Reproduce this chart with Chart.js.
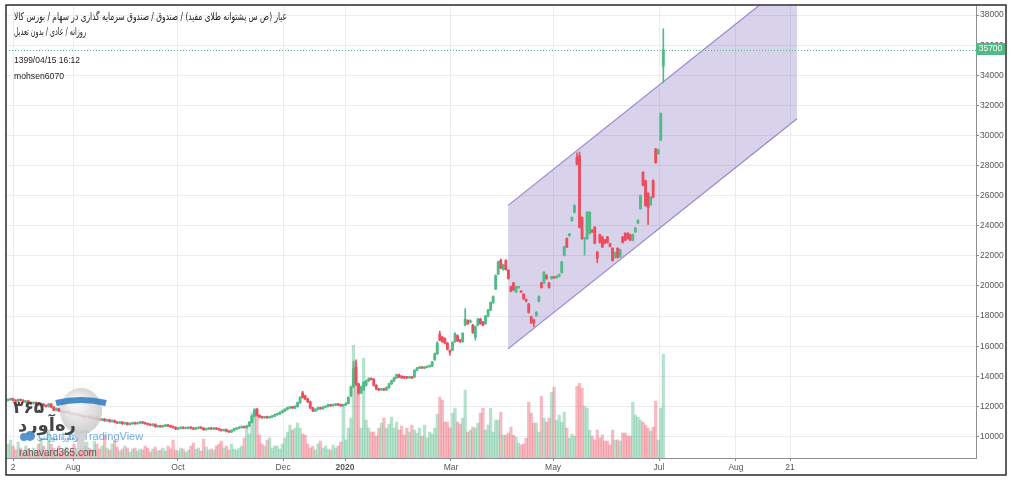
<!DOCTYPE html>
<html><head><meta charset="utf-8">
<script src="https://cdn.jsdelivr.net/npm/chart.js@4.4.0/dist/chart.umd.min.js"></script>
<style>html,body{margin:0;padding:0;background:#fff;overflow:hidden}canvas{display:block}</style>
</head><body>
<canvas id="c" width="1019" height="491"></canvas>
<script>
// ---- data (bar index 0 = early Jul 2019, last = 1399/04/15) ----
const opens = [
12400,12450,12500,12400,12350,12450,12400,12300,12350,12250,
12200,12250,12150,12100,12150,12050,12000,12150,11950,11750,
11850,11700,11650,11600,11650,11550,11500,11450,11500,11400,
11350,11300,11350,11250,11200,11250,11150,11100,11150,11050,
11100,11000,11050,10950,10900,10950,10850,10900,10800,10850,
10900,10850,10900,10950,10900,10850,10800,10750,10800,10650,
10700,10650,10700,10750,10700,10650,10600,10500,10550,10600,
10550,10550,10600,10550,10500,10550,10600,10550,10450,10500,
10550,10500,10550,10500,10450,10400,10450,10350,10300,10400,
10500,10550,10600,10650,10600,10700,10950,11350,11800,11400,
11300,11250,11300,11250,11300,11350,11450,11500,11600,11700,
11800,11900,11950,11900,12000,12250,12900,12700,12500,12300,
11900,11700,11800,11900,11850,11950,12000,12100,12050,12100,
12150,12100,12050,12100,12200,12700,13300,14600,13500,12900,
13100,13400,13700,13850,13800,13400,13150,13100,13150,13100,
13250,13500,13700,13900,14100,14000,13950,13950,13900,13950,
13950,14400,14550,14600,14550,14600,14650,14700,15100,15500,
16800,16600,16500,16200,15700,15750,16300,16700,16400,16300,
17400,17700,17600,17400,16600,17400,17800,17600,17500,18000,
18400,18900,19800,20800,21700,21100,21700,21050,19950,20200,
19600,19900,19650,19450,19100,18800,17950,17750,18050,19000,
20200,20200,20700,20200,20500,20600,20550,20650,20900,22050,
23150,23350,24350,24900,28550,28650,24550,23150,23150,23500,
23700,23900,22250,23400,23250,23050,23250,22800,22500,21900,
22500,21950,23250,23500,23500,23400,23050,23600,24200,25150,
27550,27000,26150,25400,27000,29100,28800,29700,34600];
const closes = [
12450,12500,12400,12350,12450,12400,12300,12350,12250,12200,
12250,12150,12100,12150,12050,12000,12150,11950,11750,11850,
11700,11650,11600,11650,11550,11500,11450,11500,11400,11350,
11300,11350,11250,11200,11250,11150,11100,11150,11050,11100,
11000,11050,10950,10900,10950,10850,10900,10800,10850,10900,
10850,10900,10950,10900,10850,10800,10750,10800,10650,10700,
10650,10700,10750,10700,10650,10600,10500,10550,10600,10550,
10550,10600,10550,10500,10550,10600,10550,10450,10500,10550,
10500,10550,10500,10450,10400,10450,10350,10300,10400,10500,
10550,10600,10650,10600,10700,10950,11350,11750,11400,11300,
11250,11300,11250,11300,11350,11450,11500,11600,11700,11800,
11900,11950,11900,12000,12250,12600,12600,12500,12300,11900,
11700,11800,11900,11850,11950,12000,12100,12050,12100,12150,
12100,12050,12100,12200,12600,13300,14500,13500,12900,13300,
13600,13700,13850,13800,13400,13150,13100,13150,13100,13250,
13500,13700,13900,14100,13950,13900,13900,13900,13950,13900,
14400,14550,14600,14550,14600,14650,14700,14950,15500,16200,
16400,16300,16200,15800,15600,16250,16800,16350,16300,16850,
17800,17500,17700,16900,17300,17800,17500,17400,18000,18400,
18900,19300,20700,21600,21200,21400,21100,20500,19650,19750,
19950,19900,19600,19150,19000,18250,17550,17550,18250,19300,
19900,20900,20500,19900,20600,20550,20650,20750,21600,22600,
22600,23450,24550,25350,28100,23900,23150,23150,24900,24900,
23600,22850,21850,22900,22600,22850,22900,22650,21700,22200,
21900,22400,22900,23050,23150,23050,23400,23850,24350,26000,
26700,25350,25200,25900,25900,28200,29050,31450,35700];
const highs = [
12500,12550,12550,12450,12500,12500,12450,12400,12400,12300,
12300,12300,12200,12200,12200,12100,12200,12200,12000,11900,
11900,11750,11700,11700,11700,11600,11550,11550,11550,11450,
11400,11400,11400,11300,11300,11300,11200,11200,11200,11150,
11150,11100,11100,11000,11000,11000,10950,10950,10900,10950,
10950,10950,11000,11000,10950,10900,10850,10850,10850,10750,
10750,10750,10800,10800,10750,10700,10650,10600,10650,10650,
10600,10650,10650,10600,10600,10650,10650,10600,10550,10600,
10600,10600,10600,10550,10500,10500,10500,10400,10450,10550,
10600,10650,10700,10700,10750,11000,11400,11850,11850,11450,
11350,11350,11350,11350,11400,11500,11550,11650,11750,11850,
11950,12000,12000,12050,12300,12650,13000,12750,12550,12350,
11950,11850,11950,11950,12000,12050,12150,12150,12150,12200,
12200,12150,12150,12250,12650,13350,15000,15100,13550,13350,
13650,13750,13900,13900,13850,13450,13200,13200,13200,13300,
13550,13750,13950,14150,14150,14050,14000,14000,14000,14000,
14450,14600,14650,14650,14650,14700,14750,15000,15550,16300,
17000,16650,16550,16250,15750,16300,16900,16750,16450,16900,
18500,17750,17750,17450,17350,17850,17850,17650,18050,18450,
18950,19350,20750,21650,21800,21450,21750,21100,20000,20250,
20000,19950,19700,19500,19150,18850,18000,17800,18300,19350,
20250,20950,20750,20250,20650,20650,20700,20800,21650,22650,
23200,23500,24600,25400,28850,28900,24600,23200,24950,24950,
23750,23950,22300,23450,23300,23100,23300,22850,22550,22250,
22550,22450,23300,23550,23550,23450,23450,23900,24400,26050,
27600,27050,26200,25950,27050,29150,29100,31500,37100];
const lows = [
12350,12400,12350,12300,12300,12350,12250,12250,12200,12150,
12150,12100,12050,12050,12000,11950,11950,11900,11700,11700,
11650,11600,11550,11550,11500,11450,11400,11400,11350,11300,
11250,11250,11200,11150,11150,11100,11050,11050,11000,11000,
10950,10950,10900,10850,10850,10800,10800,10750,10750,10800,
10800,10800,10850,10850,10800,10750,10700,10700,10600,10600,
10600,10600,10650,10650,10600,10550,10450,10450,10500,10500,
10500,10500,10500,10450,10450,10500,10500,10400,10400,10450,
10450,10450,10450,10400,10350,10350,10300,10250,10250,10350,
10450,10500,10550,10550,10550,10650,10900,11300,11350,11250,
11200,11200,11200,11200,11250,11300,11400,11450,11550,11650,
11750,11850,11850,11850,11950,12200,12550,12450,12250,11850,
11650,11650,11750,11800,11800,11900,11950,12000,12000,12050,
12050,12000,12000,12050,12150,12650,13250,13400,12800,12850,
13050,13350,13650,13750,13350,13100,13050,13050,13050,13050,
13200,13450,13650,13850,13900,13850,13850,13850,13850,13850,
13900,14350,14500,14500,14500,14550,14600,14650,15050,15450,
16350,16250,16150,15750,15400,15700,16250,16300,16250,16250,
17350,17450,17550,16850,16400,17350,17450,17350,17450,17950,
18350,18850,19750,20750,21150,21050,21050,20450,19600,19700,
19550,19850,19550,19100,18950,18200,17500,17300,18000,18950,
19850,20150,20450,19850,20450,20500,20500,20600,20850,22000,
22550,23300,24300,24850,28050,23850,23100,22050,23100,23450,
23550,22800,21550,22850,22550,22800,22850,22600,21650,21850,
21850,21900,22850,23000,23100,23000,23000,23550,24150,25100,
26650,25300,24100,25350,25850,28150,28750,29650,33500];
const volumes = [
14,18,12,8,16,10,6,12,9,7,
10,8,14,20,12,6,28,14,10,8,
12,6,9,11,7,8,14,10,6,9,
12,16,10,8,17,14,9,12,23,10,
8,14,18,11,7,9,12,10,6,9,
10,7,9,8,12,10,6,9,11,7,
8,10,7,12,9,18,8,7,10,9,
6,8,12,15,9,10,7,19,11,8,
9,8,12,14,17,10,12,8,14,9,
8,10,12,20,31,24,45,48,50,23,
14,12,18,20,10,12,12,9,14,20,
26,33,28,30,35,30,24,23,14,10,
12,8,14,17,10,12,9,8,13,10,
12,16,53,18,30,40,113,96,65,30,
100,38,30,26,26,22,30,35,40,30,
34,41,30,36,28,32,23,30,26,33,
28,25,30,22,33,20,26,24,30,44,
61,58,36,36,30,45,50,36,34,40,
68,26,28,31,30,35,45,50,28,33,
50,26,38,38,46,23,23,25,31,23,
21,15,13,14,20,56,45,35,35,26,
62,40,36,40,66,71,38,43,36,46,
30,20,24,22,72,75,70,52,50,28,
22,18,28,20,23,17,17,13,28,18,
18,17,25,25,22,22,56,43,41,38,
36,33,30,27,31,57,18,50,104];

const xTickPos    = [2.0, 25.6, 66.9, 108.3, 132.7, 174.4, 214.6, 256.3, 286.6, 307.9];
const xTickLabels = ['2','Aug','Oct','Dec','2020','Mar','May','Jul','Aug','21'];
const yTicks = [10000,12000,14000,16000,18000,20000,22000,24000,26000,28000,30000,32000,34000,36000,38000];
const lastPrice = 35700;

// parallel channel (bar index, price)
const chX = [196.9, 310.6];
const chUpper = [25356, 40649];
const chLower = [15823, 31116];

const titleLine1 = 'عیار (ص س پشتوانه طلای مفید) / صندوق / صندوق سرمایه گذاری در سهام / بورس کالا';
const titleLine2 = 'روزانه / عادی / بدون تعدیل';
const stampText = '1399/04/15 16:12';
const userText = 'mohsen6070';

// ---- chart ----
const UP = '#53b987', DN = '#eb4d5c';
const UPV = 'rgba(83,185,135,0.42)', DNV = 'rgba(235,77,92,0.38)';
const up = i => closes[i] >= opens[i];
const ix = opens.map((_, i) => i);

const extras = {
  id: 'extras',
  beforeDraw(chart) {
    const c = chart.ctx; c.save(); c.fillStyle = '#fff'; c.fillRect(0, 0, chart.width, chart.height); c.restore();
  },
  afterDatasetsDraw(chart) {
    const c = chart.ctx, a = chart.chartArea, ys = chart.scales.y;
    c.save();
    const yp = Math.round(ys.getPixelForValue(lastPrice)) + 0.5;
    c.strokeStyle = '#53b987'; c.lineWidth = 1; c.setLineDash([1, 2]);
    c.beginPath(); c.moveTo(a.left, yp); c.lineTo(a.right, yp); c.stroke();
    c.setLineDash([]);
    // header texts
    c.fillStyle = '#222'; c.textBaseline = 'middle'; c.textAlign = 'left';
    const fit = (t, x, y, w, font) => {
      c.font = font; const m = c.measureText(t).width;
      c.save(); c.translate(x, y); c.scale(w / m, 1); c.fillText(t, 0, 0); c.restore();
    };
    fit(titleLine1, 14, 17, 273, '10.5px "DejaVu Sans"');
    fit(titleLine2, 14, 32, 72, '10.5px "DejaVu Sans"');
    fit(stampText, 14, 60, 66, '9.5px "Liberation Sans"');
    fit(userText, 14, 76, 50, '9.5px "Liberation Sans"');
    // watermark
    c.globalAlpha = 0.85;
    c.fillStyle = '#5a9fdc';
    c.font = '11px "Liberation Sans"';
    c.fillText('Chart by TradingView', 38, 437);
    const bx = 81, by = 411;
    const g = c.createRadialGradient(bx - 7, by - 10, 2, bx, by, 25);
    g.addColorStop(0, '#fbfbfb'); g.addColorStop(1, '#c4c4c4');
    c.fillStyle = g;
    c.beginPath(); c.ellipse(bx, by, 21, 23, 0, 0, Math.PI * 2); c.fill();
    c.fillStyle = '#cdcdcd';
    c.beginPath(); c.moveTo(bx - 8, by + 19); c.lineTo(bx + 8, by + 19); c.lineTo(bx + 3, by + 31); c.lineTo(bx - 3, by + 31); c.closePath(); c.fill();
    c.fillRect(bx - 4, by + 31, 8, 8);
    c.strokeStyle = '#2c79bd'; c.lineWidth = 6;
    c.beginPath(); c.moveTo(bx - 25, by - 8); c.quadraticCurveTo(bx, by - 14, bx + 25, by - 8); c.stroke();
    c.globalAlpha = 0.95;
    c.fillStyle = '#3b3b3b';
    c.font = 'bold 17px "DejaVu Sans"';
    c.fillText('۳۶۵', 13, 409);
    c.font = 'bold 18px "DejaVu Sans"';
    c.fillText('ره‌آورد', 18, 426);
    c.fillStyle = '#4b8fd0';
    c.beginPath(); c.arc(24, 437, 4, 0, Math.PI * 2); c.arc(30, 436, 5, 0, Math.PI * 2); c.fill();
    c.font = '7px "DejaVu Sans"'; c.fillText('ره‌آورد بورسی', 37, 438);
    c.fillStyle = '#555'; c.font = '10px "Liberation Sans"';
    c.fillText('rahavard365.com', 19, 453);
    c.restore();
  },
  afterDraw(chart) {
    const c = chart.ctx, a = chart.chartArea, ys = chart.scales.y;
    c.save();
    const yp = ys.getPixelForValue(lastPrice);
    c.fillStyle = '#53b987';
    c.fillRect(a.right, Math.round(yp) - 7, 29, 12);
    c.fillStyle = '#fff'; c.font = '8.5px "Liberation Sans"'; c.textAlign = 'center'; c.textBaseline = 'middle';
    c.fillText(String(lastPrice), a.right + 14.5, Math.round(yp) - 1);
    c.strokeStyle = '#2b2b2b'; c.lineWidth = 1.5;
    c.strokeRect(6, 5, 1000, 470);
    c.restore();
  }
};

new Chart(document.getElementById('c'), {
  type: 'bar',
  data: {
    datasets: [
      { type: 'line', order: 20, yAxisID: 'y', fill: 'shape', borderWidth: 0, pointRadius: 0,
        backgroundColor: 'rgba(110,90,180,0.27)',
        data: [{x: chX[0], y: chUpper[0]}, {x: chX[1], y: chUpper[1]}, {x: chX[1], y: chLower[1]}, {x: chX[0], y: chLower[0]}, {x: chX[0], y: chUpper[0]}] },
      { type: 'line', order: 15, yAxisID: 'y', fill: false, borderColor: '#9a84cf', borderWidth: 1.2, pointRadius: 0,
        data: [{x: chX[0], y: chUpper[0]}, {x: chX[1], y: chUpper[1]}] },
      { type: 'line', order: 15, yAxisID: 'y', fill: false, borderColor: '#9a84cf', borderWidth: 1.2, pointRadius: 0,
        data: [{x: chX[0], y: chLower[0]}, {x: chX[1], y: chLower[1]}] },
      { type: 'bar', order: 10, yAxisID: 'yv', grouped: false, barThickness: 2.6,
        backgroundColor: ix.map(i => up(i) ? UPV : DNV),
        data: ix.map(i => ({x: i, y: volumes[i]})) },
      { type: 'bar', order: 5, yAxisID: 'y', grouped: false, barThickness: 1,
        backgroundColor: ix.map(i => up(i) ? UP : DN),
        data: ix.map(i => ({x: i, y: [lows[i], highs[i]]})) },
      { type: 'bar', order: 1, yAxisID: 'y', grouped: false, barThickness: 2.2, minBarLength: 1,
        backgroundColor: ix.map(i => up(i) ? UP : DN),
        data: ix.map(i => ({x: i, y: [opens[i], closes[i]]})) }
    ]
  },
  options: {
    responsive: false, animation: false, events: [],
    layout: { padding: { left: 6, top: 5, right: 13, bottom: 16 } },
    plugins: { legend: { display: false }, tooltip: { enabled: false } },
    scales: {
      x: {
        type: 'linear', min: -0.787, max: 381.1, offset: false,
        grid: { offset: false, color: '#e9edf2', tickColor: '#8a8a8a', tickLength: 3 },
        border: { display: true, color: '#8f8f8f' },
        afterBuildTicks: ax => { ax.ticks = xTickPos.map(v => ({value: v})); },
        afterFit: ax => { ax.height = 17; },
        ticks: {
          autoSkip: false, maxRotation: 0, padding: 2, color: '#555',
          font: c => ({ family: 'Liberation Sans', size: 8.5, weight: c.index === 4 ? 'bold' : 'normal' }),
          callback: (v, i) => xTickLabels[i]
        }
      },
      y: {
        type: 'linear', position: 'right', min: 8570, max: 38600,
        grid: { color: '#e9edf2', tickColor: '#8a8a8a', tickLength: 3 },
        border: { display: true, color: '#8f8f8f' },
        afterBuildTicks: ax => { ax.ticks = yTicks.map(v => ({value: v})); },
        afterFit: ax => { ax.width = 30; },
        ticks: { padding: 1, color: '#555', font: { family: 'Liberation Sans', size: 8.5 }, callback: v => String(v) }
      },
      yv: { display: false, min: 0, max: 453 }
    }
  },
  plugins: [extras]
});
</script>
</body></html>
